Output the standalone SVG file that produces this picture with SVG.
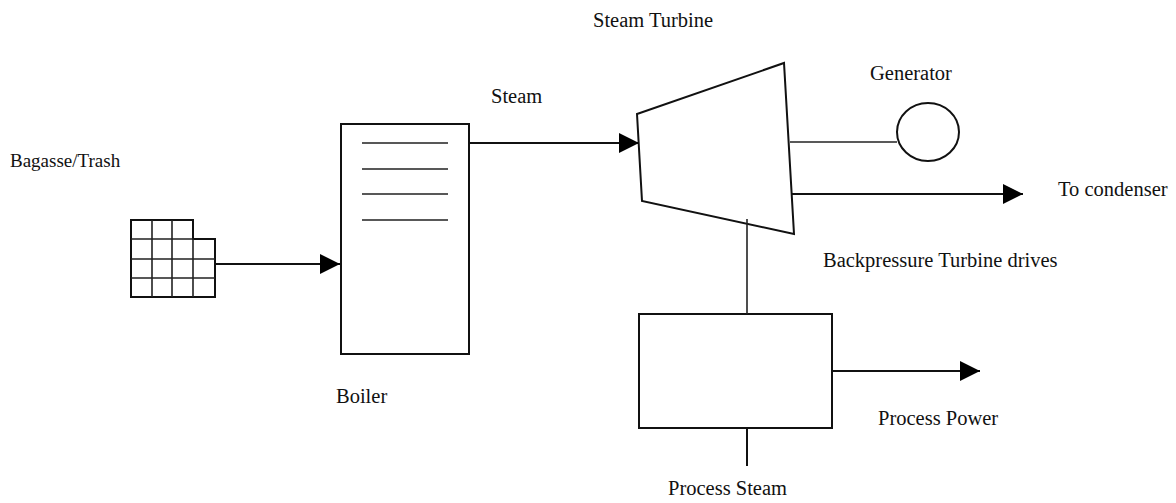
<svg xmlns="http://www.w3.org/2000/svg" width="1176" height="503" viewBox="0 0 1176 503">
  <style>
    .lbl { font-family: "Liberation Serif", "Times New Roman", serif; font-size: 20.5px; fill: #111; }
    .small { font-size: 19px; }
    .edge { fill: none; stroke: #111; stroke-width: 2; }
    .shape { fill: #fff; stroke: #111; stroke-width: 2; }
    .thin { fill: none; stroke: #222; stroke-width: 1.6; }
  </style>
  <defs>
    <marker id="arrow" markerUnits="userSpaceOnUse" markerWidth="20" markerHeight="20" refX="20" refY="10" orient="auto" viewBox="0 0 20 20">
      <path d="M0,0 L20,10 L0,20 Z" fill="#000"/>
    </marker>
  </defs>
  <rect width="1176" height="503" fill="#fff"/>

  <!-- fuel: bagasse/trash pile -->
  <g id="fuel">
    <path class="edge" d="M131,220 H193 V239 H215 V297 H131 Z"/>
    <path class="thin" d="M131,239 H193 M131,259 H215 M131,278 H215 M152,220 V297 M172,220 V297 M193,239 V297"/>
    <text class="lbl small" x="10" y="167">Bagasse/Trash</text>
  </g>

  <!-- boiler -->
  <g id="boiler">
    <rect class="shape" x="341" y="124" width="128" height="230"/>
    <path class="thin" d="M362,143 H448 M362,169 H448 M362,194 H448 M362,220 H448"/>
    <text class="lbl" x="336" y="403">Boiler</text>
  </g>

  <!-- steam turbine -->
  <g id="turbine">
    <polygon class="shape" points="637,114 784,63 794,234 642,201"/>
    <text class="lbl" x="593" y="27">Steam Turbine</text>
  </g>

  <!-- generator -->
  <g id="generator">
    <ellipse class="shape" cx="928" cy="132" rx="31" ry="29"/>
    <text class="lbl" x="870" y="80">Generator</text>
  </g>

  <!-- process unit -->
  <g id="process">
    <rect class="shape" x="639" y="314" width="193" height="114"/>
  </g>

  <!-- connectors -->
  <g id="connectors">
    <line class="edge" x1="215" y1="264" x2="340" y2="264" marker-end="url(#arrow)"/>
    <line class="edge" x1="469" y1="143" x2="639" y2="143" marker-end="url(#arrow)"/>
    <line class="thin" x1="790" y1="142" x2="897" y2="142"/>
    <line class="edge" x1="791" y1="194" x2="1023" y2="194" marker-end="url(#arrow)"/>
    <line class="thin" x1="747" y1="219" x2="747" y2="314"/>
    <line class="edge" x1="832" y1="371" x2="980" y2="371" marker-end="url(#arrow)"/>
    <line class="edge" x1="747" y1="428" x2="747" y2="466"/>
  </g>

  <!-- stream labels -->
  <g id="labels">
    <text class="lbl" x="491" y="103">Steam</text>
    <text class="lbl" x="1058" y="196">To condenser</text>
    <text class="lbl" x="823" y="267">Backpressure Turbine drives</text>
    <text class="lbl" x="878" y="425">Process Power</text>
    <text class="lbl" x="668" y="495">Process Steam</text>
  </g>
</svg>
